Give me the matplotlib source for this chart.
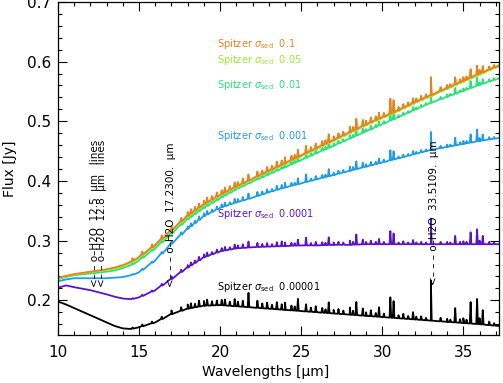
import numpy as np
import matplotlib
matplotlib.use("Agg")
import matplotlib.pyplot as plt
from matplotlib.ticker import MultipleLocator

# ---- continuum samples ----
wl = [10.0, 10.5, 11, 12, 13, 13.5, 14, 14.5, 15, 16, 17, 18, 19, 20, 21, 22, 23, 24, 25,
      26, 27, 28, 29, 30, 31, 32, 33, 34, 35, 36, 37.2]

flux_1e5 = [0.198, 0.193, 0.187, 0.175, 0.163, 0.157, 0.153, 0.152, 0.155, 0.163, 0.177, 0.186,
            0.191, 0.192, 0.190, 0.188, 0.186, 0.184, 0.182, 0.180, 0.178, 0.176,
            0.174, 0.172, 0.170, 0.168, 0.166, 0.164, 0.162, 0.160, 0.157]
flux_1e4 = [0.221, 0.225, 0.222, 0.217, 0.210, 0.206, 0.203, 0.202, 0.205, 0.217, 0.236, 0.255,
            0.272, 0.282, 0.287, 0.289, 0.290, 0.291, 0.292, 0.292, 0.293, 0.293,
            0.294, 0.294, 0.294, 0.294, 0.294, 0.294, 0.294, 0.294, 0.294]
flux_1e3 = [0.232, 0.235, 0.237, 0.237, 0.237, 0.238, 0.239, 0.242, 0.247, 0.267, 0.295, 0.320,
            0.341, 0.355, 0.364, 0.372, 0.381, 0.389, 0.396, 0.403, 0.410, 0.417,
            0.424, 0.431, 0.438, 0.445, 0.452, 0.457, 0.462, 0.467, 0.472]
flux_1e2 = [0.236, 0.239, 0.242, 0.245, 0.248, 0.250, 0.254, 0.259, 0.267, 0.287, 0.312, 0.336,
            0.355, 0.371, 0.386, 0.399, 0.411, 0.423, 0.435, 0.447, 0.459, 0.471,
            0.483, 0.495, 0.507, 0.519, 0.531, 0.541, 0.551, 0.561, 0.572]
flux_5e2 = [0.237, 0.240, 0.243, 0.247, 0.251, 0.253, 0.257, 0.263, 0.271, 0.291, 0.316, 0.340,
            0.359, 0.375, 0.389, 0.402, 0.415, 0.428, 0.441, 0.454, 0.467, 0.480,
            0.493, 0.505, 0.517, 0.530, 0.542, 0.554, 0.566, 0.578, 0.592]
flux_1e1 = [0.238, 0.241, 0.244, 0.248, 0.252, 0.255, 0.259, 0.265, 0.273, 0.293, 0.318, 0.342,
            0.361, 0.377, 0.391, 0.404, 0.417, 0.430, 0.443, 0.456, 0.469, 0.482,
            0.495, 0.507, 0.519, 0.532, 0.544, 0.556, 0.568, 0.580, 0.594]

# ---- emission-line spikes: wavelengths and heights above continuum ----
line_wl = [14.6, 15.2, 15.8, 16.4, 17.0, 17.6, 18.0, 18.2, 18.45, 18.7, 19.0, 19.2,
           19.5, 19.8, 20.1, 20.3, 20.6, 20.9, 21.1, 21.4, 21.75, 22.3, 22.6, 22.9,
           23.2, 23.5, 23.8, 24.0, 24.4, 24.6, 24.8, 25.3, 25.6, 25.9, 26.3, 26.5,
           26.7, 27.0, 27.3, 27.6, 28.0, 28.2, 28.4, 28.8, 29.0, 29.3, 29.6, 29.8,
           30.1, 30.5, 30.7, 31.0, 31.3, 31.6, 31.9, 32.1, 32.4, 32.7, 33.0, 33.6,
           34.0, 34.2, 34.5, 34.8, 35.0, 35.2, 35.45, 35.85, 36.0, 36.2, 36.6, 36.9]
h_1e5 = [0.002, 0.003, 0.003, 0.004, 0.006, 0.006, 0.007, 0.008, 0.006, 0.010, 0.008, 0.010,
         0.007, 0.008, 0.009, 0.010, 0.007, 0.012, 0.008, 0.010, 0.024, 0.012, 0.008, 0.010,
         0.007, 0.012, 0.009, 0.012, 0.008, 0.007, 0.020, 0.012, 0.007, 0.010, 0.008, 0.006,
         0.018, 0.006, 0.008, 0.006, 0.012, 0.007, 0.022, 0.012, 0.006, 0.010, 0.006, 0.016,
         0.006, 0.034, 0.028, 0.005, 0.008, 0.005, 0.012, 0.005, 0.006, 0.004, 0.067, 0.006,
         0.005, 0.004, 0.024, 0.006, 0.008, 0.006, 0.036, 0.042, 0.010, 0.024, 0.006, 0.004]
h_1e4 = [0.001, 0.002, 0.002, 0.003, 0.004, 0.004, 0.004, 0.005, 0.004, 0.006, 0.005, 0.006,
         0.004, 0.005, 0.005, 0.006, 0.004, 0.007, 0.005, 0.006, 0.010, 0.007, 0.005, 0.006,
         0.004, 0.007, 0.008, 0.006, 0.005, 0.004, 0.010, 0.013, 0.004, 0.006, 0.005, 0.004,
         0.013, 0.004, 0.005, 0.004, 0.007, 0.005, 0.017, 0.008, 0.004, 0.006, 0.004, 0.009,
         0.004, 0.022, 0.018, 0.003, 0.005, 0.003, 0.007, 0.003, 0.004, 0.003, 0.043, 0.004,
         0.004, 0.003, 0.014, 0.004, 0.005, 0.004, 0.020, 0.025, 0.006, 0.014, 0.004, 0.003]
h_1e3 = [0.001, 0.002, 0.002, 0.003, 0.004, 0.004, 0.004, 0.005, 0.004, 0.006, 0.005, 0.006,
         0.004, 0.005, 0.005, 0.006, 0.004, 0.007, 0.005, 0.006, 0.009, 0.007, 0.005, 0.006,
         0.004, 0.007, 0.006, 0.008, 0.005, 0.004, 0.010, 0.013, 0.004, 0.006, 0.005, 0.004,
         0.012, 0.004, 0.005, 0.004, 0.007, 0.005, 0.013, 0.008, 0.004, 0.006, 0.004, 0.008,
         0.004, 0.017, 0.014, 0.003, 0.004, 0.003, 0.006, 0.003, 0.004, 0.003, 0.030, 0.004,
         0.004, 0.003, 0.013, 0.004, 0.005, 0.004, 0.014, 0.020, 0.005, 0.010, 0.004, 0.003]
h_1e2 = [0.002, 0.003, 0.003, 0.004, 0.004, 0.004, 0.004, 0.005, 0.004, 0.005, 0.005, 0.006,
         0.004, 0.005, 0.005, 0.006, 0.004, 0.006, 0.005, 0.006, 0.008, 0.006, 0.004, 0.006,
         0.004, 0.006, 0.005, 0.007, 0.005, 0.004, 0.008, 0.009, 0.004, 0.006, 0.005, 0.004,
         0.010, 0.004, 0.005, 0.004, 0.006, 0.004, 0.012, 0.007, 0.004, 0.006, 0.004, 0.007,
         0.004, 0.014, 0.012, 0.003, 0.004, 0.003, 0.006, 0.003, 0.004, 0.003, 0.014, 0.004,
         0.004, 0.003, 0.010, 0.003, 0.004, 0.003, 0.012, 0.014, 0.004, 0.008, 0.004, 0.003]
h_5e2 = [0.004, 0.004, 0.005, 0.005, 0.006, 0.006, 0.005, 0.006, 0.005, 0.007, 0.006, 0.007,
         0.005, 0.007, 0.006, 0.007, 0.005, 0.008, 0.006, 0.007, 0.009, 0.008, 0.005, 0.007,
         0.005, 0.008, 0.006, 0.009, 0.007, 0.005, 0.011, 0.011, 0.005, 0.008, 0.007, 0.005,
         0.012, 0.005, 0.007, 0.005, 0.008, 0.005, 0.016, 0.009, 0.005, 0.008, 0.005, 0.009,
         0.005, 0.022, 0.018, 0.004, 0.006, 0.004, 0.008, 0.004, 0.006, 0.004, 0.028, 0.006,
         0.005, 0.004, 0.011, 0.004, 0.006, 0.004, 0.013, 0.014, 0.005, 0.009, 0.005, 0.004]
h_1e1 = [0.004, 0.005, 0.005, 0.006, 0.006, 0.006, 0.006, 0.007, 0.006, 0.007, 0.006, 0.008,
         0.006, 0.007, 0.006, 0.008, 0.006, 0.008, 0.006, 0.008, 0.010, 0.008, 0.006, 0.008,
         0.006, 0.009, 0.007, 0.010, 0.007, 0.006, 0.012, 0.012, 0.006, 0.008, 0.007, 0.006,
         0.013, 0.006, 0.007, 0.006, 0.009, 0.006, 0.017, 0.010, 0.006, 0.008, 0.006, 0.010,
         0.006, 0.025, 0.020, 0.005, 0.006, 0.005, 0.008, 0.005, 0.006, 0.005, 0.030, 0.006,
         0.005, 0.004, 0.012, 0.005, 0.006, 0.005, 0.014, 0.015, 0.006, 0.010, 0.005, 0.004]

labels = ["0.00001", "0.0001", "0.001", "0.01", "0.05", "0.1"]
label_flux = [0.223, 0.345, 0.475, 0.560, 0.603, 0.630]
colors = ["#000000", "#5A14C8", "#1E9CE6", "#28E27A", "#A2E632", "#E8821E"]
conts = [flux_1e5, flux_1e4, flux_1e3, flux_1e2, flux_5e2, flux_1e1]
heights = [h_1e5, h_1e4, h_1e3, h_1e2, h_5e2, h_1e1]

fig = plt.figure(figsize=(5.03, 3.83), dpi=100)
ax = fig.add_axes([0.1153, 0.125, 0.8767, 0.87])

dw = 0.05
lw_arr = np.array(line_wl)
for cont, h, c in zip(conts, heights, colors):
    base = np.interp(lw_arr, wl, cont)
    xs = np.concatenate([wl, lw_arr - dw, lw_arr, lw_arr + dw])
    ys = np.concatenate([cont, base, base + np.array(h), base])
    o = np.argsort(xs, kind="stable")
    ax.plot(xs[o], ys[o], color=c, lw=1.3)

for lab, yf, c in zip(labels, label_flux, colors):
    ax.text(19.8, yf, r"Spitzer $\sigma_{\rm sed}$  " + lab, color=c,
            fontsize=7, va="center", ha="left")

ann_fs = 7.5
ax.text(12.27, 0.222, "<\u2013 \u2013 o\u2013H2O  12.5  \u03bcm   lines", rotation=90,
        fontsize=ann_fs, ha="center", va="bottom")
ax.text(12.72, 0.222, "<\u2013 \u2013 o\u2013H2O  12.8  \u03bcm   lines", rotation=90,
        fontsize=ann_fs, ha="center", va="bottom")
ax.text(16.98, 0.222, "<\u2013 \u2013 \u2013 o\u2013H2O  17.2300.  \u03bcm", rotation=90,
        fontsize=ann_fs, ha="center", va="bottom")
ax.text(33.2, 0.225, "<\u2013 \u2013 \u2013 o\u2013H2O  33.5109.  \u03bcm", rotation=90,
        fontsize=ann_fs, ha="center", va="bottom")

ax.set_xlim(10, 37.2)
ax.set_ylim(0.1417, 0.70)
ax.xaxis.set_major_locator(MultipleLocator(5))
ax.xaxis.set_minor_locator(MultipleLocator(1))
ax.yaxis.set_minor_locator(MultipleLocator(0.02))
ax.set_yticks([0.2, 0.3, 0.4, 0.5, 0.6, 0.7])
ax.set_yticklabels(["0.2", "0.3", "0.4", "0.5", "0.6", "0.7"])
ax.tick_params(which="both", direction="in", top=True, right=True, labelsize=11)
ax.tick_params(which="major", length=6.5, width=0.8)
ax.tick_params(which="minor", length=3.2, width=0.8)
ax.tick_params(axis="x", pad=7)
ax.tick_params(axis="y", pad=5)
for s in ax.spines.values():
    s.set_linewidth(0.9)

ax.set_xlabel("Wavelengths [\u03bcm]", fontsize=10)
ax.set_ylabel("Flux [Jy]", fontsize=10)
ax.xaxis.set_label_coords(0.47, -0.09)
ax.yaxis.set_label_coords(-0.093, 0.5)

fig.savefig("out.png", dpi=100)
